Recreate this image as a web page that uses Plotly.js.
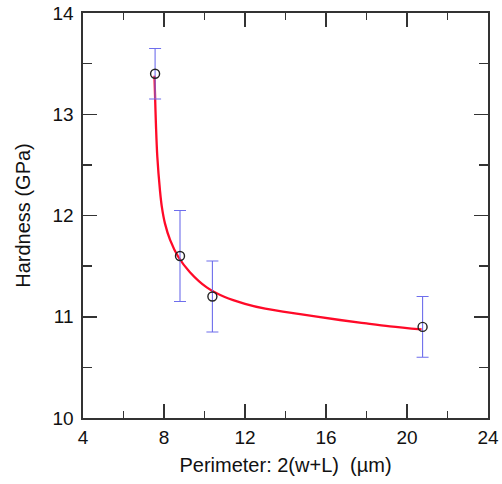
<!DOCTYPE html>
<html>
<head>
<meta charset="utf-8">
<script src="https://cdn.plot.ly/plotly-3.0.1.min.js"></script>
<style>html,body{margin:0;padding:0;background:#fff;}#chart{width:502px;height:484px;}</style>
</head>
<body>
<div id="chart"></div>
<script>
// Measured data points
var perimeter = [7.56, 8.79, 10.39, 20.77];
var hardness = [13.40, 11.60, 11.20, 10.90];
var hardnessErr = [0.25, 0.45, 0.35, 0.30];

// Fitted curve
var fitX = [7.53, 7.55, 7.60, 7.67, 7.80, 7.89, 8.05, 8.30, 8.71, 9.28, 10.11, 11.00, 12.00, 13.00, 14.72, 16.69, 18.00, 19.16, 20.72];
var fitY = [13.38, 13.24, 12.91, 12.58, 12.25, 12.09, 11.92, 11.76, 11.59, 11.44, 11.29, 11.195, 11.128, 11.08, 11.025, 10.968, 10.934, 10.906, 10.875];

var xTicks = [4, 8, 12, 16, 20, 24];
var yTicks = [10, 11, 12, 13, 14];

var font = 'Liberation Sans, Arial, sans-serif';

var traces = [
  {
    x: fitX, y: fitY, type: 'scatter', mode: 'lines',
    line: {color: '#ff0a28', width: 2.3, shape: 'spline', smoothing: 1},
    hoverinfo: 'skip', showlegend: false
  },
  {
    x: perimeter, y: hardness, type: 'scatter', mode: 'markers',
    marker: {symbol: 'circle-open', size: 9, color: '#222', line: {width: 1.4, color: '#222'}},
    error_y: {type: 'data', array: hardnessErr, visible: true, color: '#6e6eec', thickness: 1.1, width: 6},
    showlegend: false
  }
];

var axisCommon = {
  showgrid: false, zeroline: false,
  showline: true, linecolor: '#333', linewidth: 1.6,
  mirror: 'ticks', ticks: 'inside', ticklen: 14, tickwidth: 1.5, tickcolor: '#333',
  tickfont: {family: font, size: 19, color: '#111'}
};

var layout = {
  width: 502, height: 484,
  margin: {l: 83, r: 14, t: 13, b: 66},
  paper_bgcolor: '#fff', plot_bgcolor: '#fff',
  font: {family: font, color: '#111'},
  xaxis: Object.assign({}, axisCommon, {
    range: [4, 24], tickvals: xTicks, ticktext: xTicks.map(String),
    ticklabelstandoff: 2,
    minor: {dtick: 2, tick0: 0, ticklen: 7, tickwidth: 1.5, tickcolor: '#333', ticks: 'inside'},
    title: {text: 'Perimeter: 2(w+L)  (\u00b5m)', font: {family: font, size: 20, color: '#111'}, standoff: 10}
  }),
  yaxis: Object.assign({}, axisCommon, {
    range: [10, 14], tickvals: yTicks, ticktext: yTicks.map(String),
    ticklabelstandoff: 4,
    minor: {dtick: 0.5, tick0: 0, ticklen: 9, tickwidth: 1.5, tickcolor: '#333', ticks: 'inside'},
    title: {text: 'Hardness (GPa)', font: {family: font, size: 20, color: '#111'}, standoff: 16}
  })
};

Plotly.newPlot('chart', traces, layout, {displayModeBar: false, staticPlot: true});
</script>
</body>
</html>
